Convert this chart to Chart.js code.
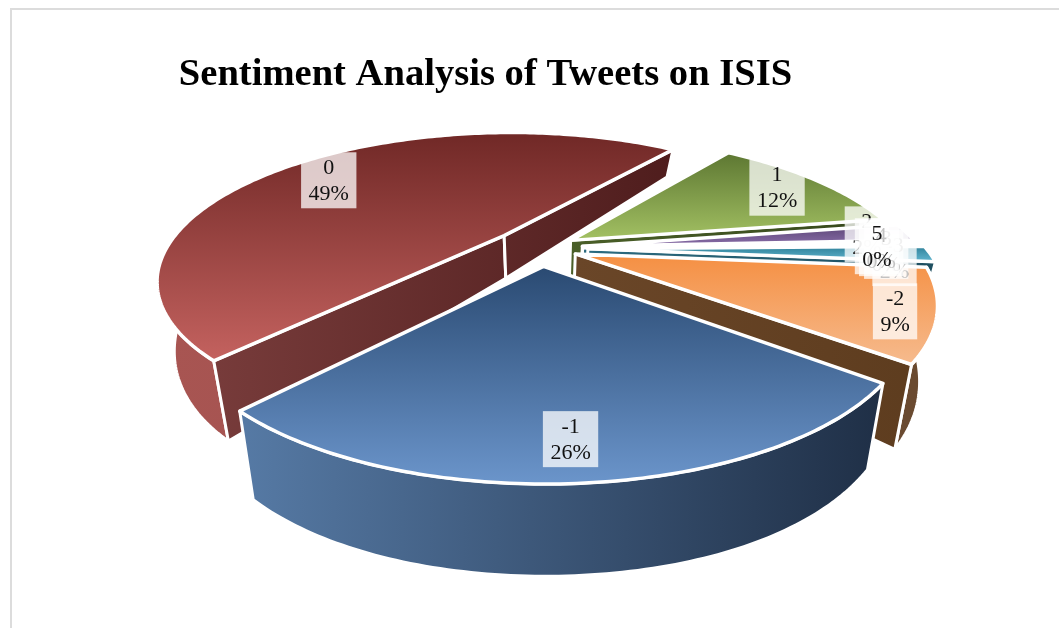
<!DOCTYPE html>
<html>
<head>
<meta charset="utf-8">
<title>Sentiment Analysis of Tweets on ISIS</title>
<script src="https://cdn.jsdelivr.net/npm/chart.js@4"></script>
<style>
  html, body { margin: 0; padding: 0; background: #fff; overflow: hidden; }
  #frame { position: absolute; left: 10px; top: 8px; right: -4px; bottom: -4px; border: 2px solid #dcdcdc; }
  canvas { position: absolute; left: 0; top: 0; }
</style>
</head>
<body>
<div id="frame"></div>
<canvas id="pie" width="1059" height="628"></canvas>
<script>
// Sentiment categories, clockwise from the thin teal slice
const categories = ['-3', '-2', '-1', '0', '1', '2', '3', '4', '5'];
const shares = [1.7, 9.3, 25.8, 48.4, 12.0, 1.9, 0.15, 0.15, 0.1];
const explodeOffsets = [112, 88, 100, 112, 85, 100, 100, 100, 100];
const chartTitle = 'Sentiment Analysis of Tweets on ISIS';

// top far, top near, rim left, rim right, wall left, wall right
const sliceColors = [
    ['#2f8199', '#62b6d0', '#2b6b80', '#1f4f60', '#2b6b80', '#1f4f60'],
    ['#f58f42', '#f6bb8e', '#6a4a30', '#6a4a30', '#6a4628', '#5d3c1e'],
    ['#2a4a72', '#6b95cb', '#567aa5', '#1f2f46', '#567aa5', '#1f2f46'],
    ['#702826', '#c4625f', '#a85552', '#a04f4e', '#7c3f3e', '#4f1d1d'],
    ['#5d7732', '#a3c163', '#4a5f28', '#36481c', '#4a5f28', '#36481c'],
    ['#5a4474', '#8a6eaa', '#4a3762', '#3a2a4e', '#4a3762', '#3a2a4e'],
    ['#2f8199', '#62b6d0', '#2b6b80', '#1f4f60', '#2b6b80', '#1f4f60'],
    ['#2f8199', '#62b6d0', '#2b6b80', '#1f4f60', '#2b6b80', '#1f4f60'],
    ['#2f8199', '#62b6d0', '#2b6b80', '#1f4f60', '#2b6b80', '#1f4f60']
];

// Fake camera: flat pie plane onto the screen, near side bigger
const view = { cx: 540, cy: 248, scaleX: 338, scaleY: 140, persp: 0.295 };
const labelRadius = 0.85;
// small hand nudges so the label boxes sit where the original has them
const labelNudge = [[16, 5], [18, 7], [-6, 0], [6, 7], [-5, 0], [8, 0], [20, 8], [14, 4], [9, 1]];

function project(u, v) {
    const w = 1 - view.persp * v;
    return { x: view.cx + view.scaleX * u / w, y: view.cy + view.scaleY * v / w };
}

// Same point on the underside of the pie
function drop(p) {
    const dx = p.x - view.cx;
    return {
        x: view.cx + dx * 0.955,
        y: p.y + 45 + 0.2 * (p.y - view.cy) + 0.00012 * dx * dx
    };
}

function sliceGeometry(arc) {
    const mid = (arc.startAngle + arc.endAngle) / 2;
    const e = (arc.options.offset / 4) / arc.outerRadius;
    const ou = e * Math.cos(mid), ov = e * Math.sin(mid);
    const rim = [];
    const steps = Math.max(2, Math.ceil((arc.endAngle - arc.startAngle) * 60));
    for (let i = 0; i <= steps; i++) {
        const a = arc.startAngle + (arc.endAngle - arc.startAngle) * i / steps;
        rim.push(project(ou + Math.cos(a), ov + Math.sin(a)));
    }
    return { mid, ou, ov, apex: project(ou, ov), rim };
}

function tracePath(ctx, points) {
    ctx.beginPath();
    points.forEach((p, i) => i ? ctx.lineTo(p.x, p.y) : ctx.moveTo(p.x, p.y));
    ctx.closePath();
}

function fillFace(ctx, points, fill, lineWidth) {
    tracePath(ctx, points);
    ctx.fillStyle = fill;
    ctx.fill();
    ctx.lineWidth = lineWidth;
    ctx.strokeStyle = '#fff';
    ctx.lineJoin = 'round';
    ctx.stroke();
}

function bounds(points) {
    const xs = points.map(p => p.x), ys = points.map(p => p.y);
    return { x0: Math.min(...xs), x1: Math.max(...xs), y0: Math.min(...ys), y1: Math.max(...ys) };
}

function sideGradient(ctx, box, left, right) {
    const grad = ctx.createLinearGradient(box.x0, 0, box.x1, 0);
    grad.addColorStop(0, left);
    grad.addColorStop(1, right);
    return grad;
}

function drawSlice(ctx, arc, colors) {
    const g = sliceGeometry(arc);
    const all = [g.apex, ...g.rim];
    const box = bounds(all);

    // rim strip, the top covers the far half of it
    const strip = [...g.rim, ...g.rim.map(drop).reverse()];
    fillFace(ctx, strip, sideGradient(ctx, box, colors[2], colors[3]), 3);

    // cut faces, only those turned towards the viewer
    const first = g.rim[0], last = g.rim[g.rim.length - 1];
    const wallFill = sideGradient(ctx, box, colors[4], colors[5]);
    if (first.x < g.apex.x) fillFace(ctx, [g.apex, first, drop(first), drop(g.apex)], wallFill, 3);
    if (last.x > g.apex.x) fillFace(ctx, [g.apex, last, drop(last), drop(g.apex)], wallFill, 3);

    const topFill = ctx.createLinearGradient(0, box.y0, 0, box.y1);
    topFill.addColorStop(0, colors[0]);
    topFill.addColorStop(1, colors[1]);
    fillFace(ctx, all, topFill, 3.5);
}

function drawLabel(ctx, arc, index, total) {
    const g = sliceGeometry(arc);
    const p = project(g.ou + labelRadius * Math.cos(g.mid), g.ov + labelRadius * Math.sin(g.mid));
    const x = p.x + labelNudge[index][0], y = p.y + labelNudge[index][1];
    const lines = [categories[index], Math.round(shares[index] / total * 100) + '%'];
    ctx.font = '22px "Liberation Serif"';
    ctx.textAlign = 'center';
    ctx.textBaseline = 'middle';
    const w = Math.max(...lines.map(t => ctx.measureText(t).width)) + 15;
    ctx.fillStyle = 'rgba(255,255,255,0.75)';
    ctx.fillRect(x - w / 2, y - 28, w, 56);
    ctx.fillStyle = '#111';
    ctx.fillText(lines[0], x, y - 12);
    ctx.fillText(lines[1], x, y + 14);
}

const pie3d = {
    id: 'pie3d',
    beforeDatasetsDraw(chart) {
        const ctx = chart.ctx;
        const arcs = chart.getDatasetMeta(0).data;
        const total = shares.reduce((a, b) => a + b, 0);
        const order = arcs.map((a, i) => i).sort((a, b) =>
            Math.sin((arcs[a].startAngle + arcs[a].endAngle) / 2) - Math.sin((arcs[b].startAngle + arcs[b].endAngle) / 2));
        ctx.save();
        order.forEach(i => drawSlice(ctx, arcs[i], sliceColors[i]));
        arcs.forEach((arc, i) => drawLabel(ctx, arc, i, total));
        ctx.restore();
        return false;
    }
};

new Chart(document.getElementById('pie').getContext('2d'), {
    type: 'pie',
    data: {
        labels: categories,
        datasets: [{ data: shares, offset: explodeOffsets }]
    },
    options: {
        responsive: false,
        animation: false,
        rotation: 89,
        layout: { padding: { right: 88 } },
        plugins: {
            legend: { display: false },
            tooltip: { enabled: false },
            title: {
                display: true,
                text: chartTitle,
                color: '#000',
                font: { family: '"Liberation Serif"', size: 38.6, weight: 'bold' },
                padding: { top: 52, bottom: 20 }
            }
        }
    },
    plugins: [pie3d]
});
</script>
</body>
</html>
